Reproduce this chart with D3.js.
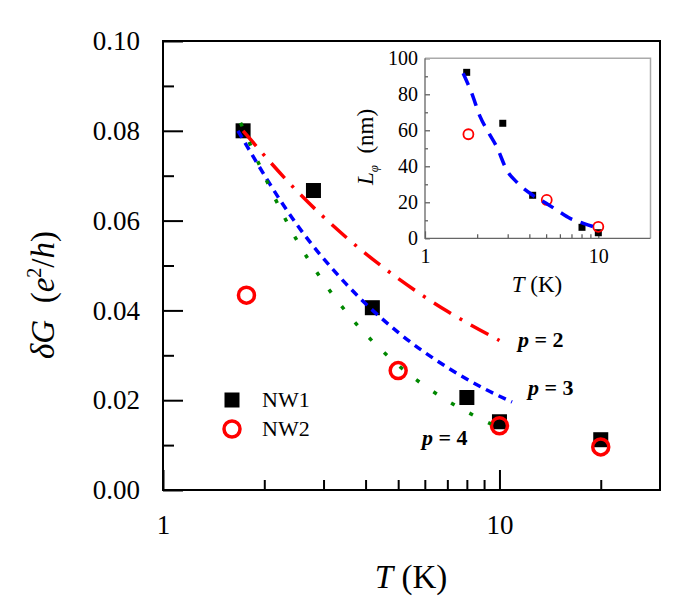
<!DOCTYPE html>
<html><head><meta charset="utf-8">
<script src="https://cdn.jsdelivr.net/npm/d3@7"></script>
<style>body{margin:0;background:#fff}svg{display:block}
svg text{font-family:"Liberation Serif","Times New Roman",Times,serif;}</style>
</head><body><svg id="c" width="685" height="611"></svg>
<script>
// ---- data ----
const nw1T = [1.73, 2.8, 4.19, 8, 10, 20];
const nw1G = [0.080, 0.0667, 0.0406, 0.0206, 0.0152, 0.0112];
const nw2T = [1.77, 5, 10, 20];
const nw2G = [0.0434, 0.0266, 0.0143, 0.0096];
const p2T = [1.73, 2.5, 3.5, 5, 7, 10];
const p2G = [0.080, 0.0666, 0.0563, 0.0471, 0.0398, 0.0333];
const p3T = [1.67, 2.5, 3.5, 5, 7, 9, 10.9];
const p3G = [0.080, 0.0591, 0.0459, 0.0351, 0.0273, 0.0226, 0.0196];
const p4T = [1.70, 2.5, 3.5, 5, 7, 9.44];
const p4G = [0.0818, 0.0556, 0.0397, 0.0278, 0.0199, 0.0147];
const inNw1T = [1.74, 2.81, 4.18, 8.05, 10];
const inNw1L = [92.2, 63.9, 23.9, 6.1, 3.1];
const inNw2T = [1.78, 5.04, 10];
const inNw2L = [57.8, 21.3, 6.4];
const inFitT = [1.66, 1.86, 2.08, 2.35, 2.59, 2.96, 3.4, 4.18, 5.0, 5.9, 6.87, 8.2, 9.8];
const inFitL = [91.7, 80.6, 67.6, 58, 50.9, 38, 31, 24, 19.5, 15, 11.1, 8.3, 5.9];
const xMajor = [1, 10];
const xMinor = [2, 3, 4, 5, 6, 7, 8, 9, 20];
const yMajor = [0, 0.02, 0.04, 0.06, 0.08, 0.10];
const yMinor = [0.01, 0.03, 0.05, 0.07, 0.09];
const inXMajor = [1, 10];
const inXMinor = [2, 3, 4, 5, 6, 7, 8, 9];
const inYMajor = [0, 20, 40, 60, 80, 100];
const inYMinor = [10, 30, 50, 70, 90];
const curveLabels = ["2", "3", "4"];

const svg = d3.select("#c");
svg.append("rect").attr("width", 685).attr("height", 611).attr("fill", "#fff");

// ---- main scales ----
const x = d3.scaleLog().domain([1, 30]).range([163, 660]);
const y = d3.scaleLinear().domain([0, 0.1]).range([490, 41]);

function styleAxis(g, fs, col, sw) {
  g.select(".domain").remove();
  g.attr("font-family", null).attr("font-size", null);
  g.selectAll("line").attr("stroke", col).attr("stroke-width", sw);
  g.selectAll("text").attr("font-size", fs).attr("fill", "#000");
}

svg.append("g").attr("transform", "translate(0,490)")
  .call(d3.axisBottom(x).tickValues(xMajor).tickSize(-20).tickPadding(25).tickFormat(d3.format("d")))
  .call(g => styleAxis(g, 27, "#000", 2));
svg.append("g").attr("transform", "translate(0,490)")
  .call(d3.axisBottom(x).tickValues(xMinor).tickSize(-10).tickFormat(""))
  .call(g => styleAxis(g, 27, "#000", 2));
svg.append("g").attr("transform", "translate(163,0)")
  .call(d3.axisLeft(y).tickValues(yMajor).tickSize(-20).tickPadding(23).tickFormat(d3.format(".2f")))
  .call(g => styleAxis(g, 27, "#000", 2));
svg.append("g").attr("transform", "translate(163,0)")
  .call(d3.axisLeft(y).tickValues(yMinor).tickSize(-11).tickFormat(""))
  .call(g => styleAxis(g, 27, "#000", 2));
svg.append("rect").attr("x", x(1)).attr("y", y(0.1))
  .attr("width", x(30) - x(1)).attr("height", y(0) - y(0.1))
  .attr("fill", "none").attr("stroke", "#000").attr("stroke-width", 2);

// axis titles
const xt = svg.append("text").attr("x", 411).attr("y", 588).attr("text-anchor", "middle")
  .attr("font-size", 33);
xt.append("tspan").attr("font-style", "italic").text("T");
xt.append("tspan").text(" (K)");

const yt = svg.append("text").attr("transform", "translate(54,295) rotate(-90)")
  .attr("text-anchor", "middle").attr("font-size", 33);
yt.append("tspan").attr("font-style", "italic").text("δG");
yt.append("tspan").text("\u2002(");
yt.append("tspan").attr("font-style", "italic").text("e");
yt.append("tspan").attr("font-size", 20).attr("dy", -13).text("2");
yt.append("tspan").attr("dy", 13).text("/");
yt.append("tspan").attr("font-style", "italic").text("h");
yt.append("tspan").text(")");

// ---- main marks ----
const S = 15;
svg.append("g").selectAll("rect").data(nw1T).join("rect")
  .attr("x", (d, i) => x(d) - S / 2).attr("y", (d, i) => y(nw1G[i]) - S / 2)
  .attr("width", S).attr("height", S).attr("fill", "#000");
svg.append("g").selectAll("circle").data(nw2T).join("circle")
  .attr("cx", d => x(d)).attr("cy", (d, i) => y(nw2G[i])).attr("r", 8)
  .attr("fill", "none").attr("stroke", "#f00").attr("stroke-width", 3.5);

const line = d3.line().curve(d3.curveMonotoneX);
function curve(T, G, col, dash) {
  svg.append("path").attr("d", line(T.map((t, i) => [x(t), y(G[i])])))
    .attr("fill", "none").attr("stroke", col).attr("stroke-width", 3.5)
    .attr("stroke-dasharray", dash);
}
curve(p2T, p2G, "#f00", "20,10,3,10");
curve(p3T, p3G, "#00f", "8,6");
curve(p4T, p4G, "#080", "4,17");

// curve labels
const labPos = [[518, 347], [528, 395], [422, 445]];
curveLabels.forEach((k, i) => {
  const t = svg.append("text").attr("x", labPos[i][0]).attr("y", labPos[i][1])
    .attr("font-size", 22).attr("font-weight", "bold");
  t.append("tspan").attr("font-style", "italic").text("p");
  t.append("tspan").text(" = " + k);
});

// legend
svg.append("rect").attr("x", 232 - S / 2).attr("y", 400 - S / 2).attr("width", S).attr("height", S).attr("fill", "#000");
svg.append("circle").attr("cx", 232).attr("cy", 429).attr("r", 8).attr("fill", "none").attr("stroke", "#f00").attr("stroke-width", 3.5);
svg.append("text").attr("x", 262).attr("y", 407).attr("font-size", 22).text("NW1");
svg.append("text").attr("x", 262).attr("y", 436).attr("font-size", 22).text("NW2");

// ---- inset ----
const ix = d3.scaleLog().domain([1, 20]).range([425, 650.5]);
const iy = d3.scaleLinear().domain([0, 100]).range([238.3, 58.3]);

svg.append("g").attr("transform", "translate(0,238.3)")
  .call(d3.axisBottom(ix).tickValues(inXMajor).tickSize(-7).tickPadding(11).tickFormat(d3.format("d")))
  .call(g => styleAxis(g, 20, "#555", 1.2));
svg.append("g").attr("transform", "translate(0,238.3)")
  .call(d3.axisBottom(ix).tickValues(inXMinor).tickSize(-4).tickFormat(""))
  .call(g => styleAxis(g, 20, "#555", 1.2));
svg.append("g").attr("transform", "translate(425,0)")
  .call(d3.axisLeft(iy).tickValues(inYMajor).tickSize(-5).tickPadding(7).tickFormat(d3.format("d")))
  .call(g => styleAxis(g, 20, "#555", 1.2));
svg.append("g").attr("transform", "translate(425,0)")
  .call(d3.axisLeft(iy).tickValues(inYMinor).tickSize(-3).tickFormat(""))
  .call(g => styleAxis(g, 20, "#555", 1.2));
svg.append("path")
  .attr("d", `M${ix(1)},${iy(100)}H${ix(20)}V${iy(0)}`)
  .attr("fill", "none").attr("stroke", "#aaa").attr("stroke-width", 1.5);
svg.append("path")
  .attr("d", `M${ix(1)},${iy(100)}V${iy(0)}H${ix(20)}`)
  .attr("fill", "none").attr("stroke", "#666").attr("stroke-width", 1.3);

const s2 = 7;
svg.append("g").selectAll("rect").data(inNw1T).join("rect")
  .attr("x", d => ix(d) - s2 / 2).attr("y", (d, i) => iy(inNw1L[i]) - s2 / 2)
  .attr("width", s2).attr("height", s2).attr("fill", "#000");
svg.append("g").selectAll("circle").data(inNw2T).join("circle")
  .attr("cx", d => ix(d)).attr("cy", (d, i) => iy(inNw2L[i])).attr("r", 5)
  .attr("fill", "none").attr("stroke", "#f00").attr("stroke-width", 1.8);
svg.append("path").attr("d", line(inFitT.map((t, i) => [ix(t), iy(inFitL[i])])))
  .attr("fill", "none").attr("stroke", "#00f").attr("stroke-width", 3.5)
  .attr("stroke-dasharray", "13,9");

const ixt = svg.append("text").attr("x", 537).attr("y", 292).attr("text-anchor", "middle")
  .attr("font-size", 23);
ixt.append("tspan").attr("font-style", "italic").text("T");
ixt.append("tspan").text(" (K)");

const iyt = svg.append("text").attr("transform", "translate(373,147) rotate(-90)")
  .attr("text-anchor", "middle").attr("font-size", 23);
iyt.append("tspan").attr("font-style", "italic").text("L");
iyt.append("tspan").attr("font-style", "italic").attr("font-size", 13).attr("dy", 5).text("φ");
iyt.append("tspan").attr("dy", -5).text("\u2002(nm)");
</script></body></html>
